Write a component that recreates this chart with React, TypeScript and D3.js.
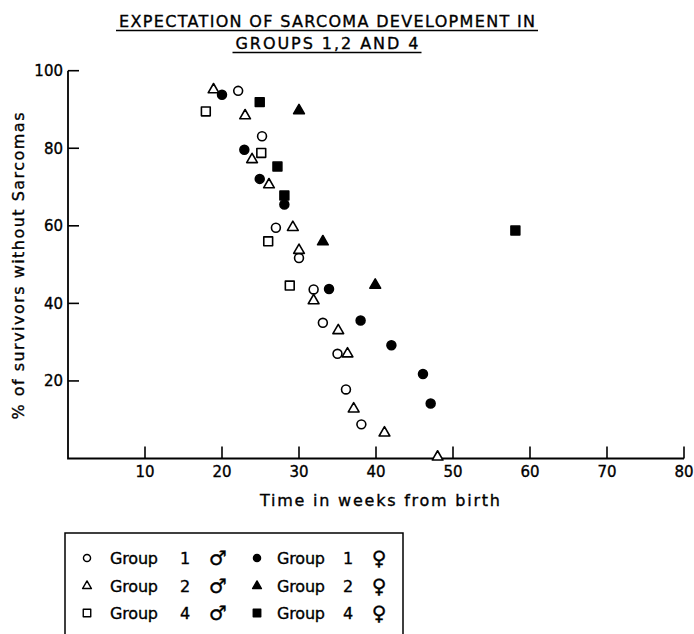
import { useEffect, useRef } from 'react';
import * as d3 from 'd3';

// --- data (weeks, % survivors) ---
const g1MaleX = [22.1, 25.2, 27.0, 30.0, 31.9, 33.1, 35.0, 36.1, 38.1];
const g1MaleY = [94.8, 83.1, 59.5, 51.7, 43.6, 35.0, 27.0, 17.8, 8.8];
const g1FemaleX = [20.0, 22.9, 24.9, 28.1, 33.9, 38.0, 42.0, 46.1, 47.1];
const g1FemaleY = [93.8, 79.6, 72.1, 65.5, 43.7, 35.6, 29.2, 21.8, 14.2];
const g2MaleX = [18.9, 23.0, 23.9, 26.1, 29.2, 30.0, 31.9, 35.1, 36.3, 37.1, 41.1, 48.0];
const g2MaleY = [95.1, 88.4, 77.1, 70.6, 59.6, 53.7, 40.7, 33.0, 27.0, 12.8, 6.6, 0.4];
const g2FemaleX = [30.0, 33.1, 39.9];
const g2FemaleY = [89.7, 55.9, 44.7];
const g4MaleX = [17.9, 25.1, 26.0, 28.8];
const g4MaleY = [89.5, 78.8, 56.0, 44.6];
const g4FemaleX = [24.9, 27.2, 28.1, 58.1];
const g4FemaleY = [91.9, 75.3, 67.8, 58.8];

const xTicks = [10, 20, 30, 40, 50, 60, 70, 80];
const yTicks = [20, 40, 60, 80, 100];
const groups = ['1', '2', '4'];

const titleLines = ['EXPECTATION OF SARCOMA DEVELOPMENT IN', 'GROUPS 1,2 AND 4'];

const FONT = "'DejaVu Sans', sans-serif";

export default function App() {
  const ref = useRef<SVGSVGElement>(null);

  useEffect(() => {
    if (!ref.current) return;
    const svg = d3.select(ref.current);
    svg.selectAll('*').remove();

    const x = d3.scaleLinear().domain([0, 80]).range([68, 684]);
    const y = d3.scaleLinear().domain([0, 100]).range([458.5, 70.7]);

    // ink is a little heavier in the scan
    const txt = (sel: any) => sel.attr('fill', '#000').attr('stroke', '#000').attr('stroke-width', 0.35);

    // title
    const titleY = [27, 49];
    const titleW = [416, 183];
    titleLines.forEach((t, i) => {
      svg.append('text')
        .attr('x', 327).attr('y', titleY[i])
        .attr('text-anchor', 'middle')
        .attr('font-family', FONT).attr('font-size', 16)
        .attr('textLength', titleW[i]).attr('lengthAdjust', 'spacing')
        .call(txt)
        .text(t);
      svg.append('line')
        .attr('x1', 327 - titleW[i] / 2 - 3).attr('x2', 327 + titleW[i] / 2 + 3)
        .attr('y1', titleY[i] + 3.5).attr('y2', titleY[i] + 3.5)
        .attr('stroke', '#000').attr('stroke-width', 1.5);
    });

    // axes
    const axisG = svg.append('g');
    axisG.append('path')
      .attr('d', `M${x(0)},${y(100)}V${y(0)}H${x(80)}`)
      .attr('fill', 'none').attr('stroke', '#000').attr('stroke-width', 1.8);

    yTicks.forEach(v => {
      axisG.append('line')
        .attr('x1', x(0)).attr('x2', x(0) + 11)
        .attr('y1', y(v)).attr('y2', y(v))
        .attr('stroke', '#000').attr('stroke-width', 1.6);
      axisG.append('text')
        .attr('x', 63).attr('y', y(v) + 5.5)
        .attr('text-anchor', 'end')
        .attr('font-family', FONT).attr('font-size', 15)
        .call(txt)
        .text(v);
    });
    xTicks.forEach(v => {
      axisG.append('line')
        .attr('x1', x(v)).attr('x2', x(v))
        .attr('y1', y(0)).attr('y2', y(0) - 12)
        .attr('stroke', '#000').attr('stroke-width', 1.6);
      axisG.append('text')
        .attr('x', x(v)).attr('y', 477)
        .attr('text-anchor', 'middle')
        .attr('font-family', FONT).attr('font-size', 15)
        .call(txt)
        .text(v);
    });

    svg.append('text')
      .attr('x', 380).attr('y', 506)
      .attr('text-anchor', 'middle')
      .attr('font-family', FONT).attr('font-size', 16)
      .attr('textLength', 240).attr('lengthAdjust', 'spacing')
      .call(txt)
      .text('Time in weeks from birth');

    svg.append('text')
      .attr('transform', 'translate(24,266) rotate(-90)')
      .attr('text-anchor', 'middle')
      .attr('font-family', FONT).attr('font-size', 16)
      .attr('textLength', 307).attr('lengthAdjust', 'spacing')
      .call(txt)
      .text('% of survivors without Sarcomas');

    // markers
    const circle = d3.symbol().type(d3.symbolCircle).size(62)();
    const tri = d3.symbol().type(d3.symbolTriangle).size(50)();
    const square = d3.symbol().type(d3.symbolSquare).size(78)();

    const series = [
      { xs: g1MaleX, ys: g1MaleY, path: circle, filled: false },
      { xs: g2MaleX, ys: g2MaleY, path: tri, filled: false },
      { xs: g4MaleX, ys: g4MaleY, path: square, filled: false },
      { xs: g1FemaleX, ys: g1FemaleY, path: circle, filled: true },
      { xs: g2FemaleX, ys: g2FemaleY, path: tri, filled: true },
      { xs: g4FemaleX, ys: g4FemaleY, path: square, filled: true },
    ];

    const marks = svg.append('g');
    series.forEach(s => {
      s.xs.forEach((vx, i) => {
        marks.append('path')
          .attr('d', s.path)
          .attr('transform', `translate(${x(vx)},${y(s.ys[i])})`)
          .attr('fill', s.filled ? '#000' : '#fff')
          .attr('stroke', '#000')
          .attr('stroke-width', 1.6)
          .attr('stroke-linejoin', 'round');
      });
    });

    // legend box (runs off the bottom of the picture)
    svg.append('path')
      .attr('d', 'M65,640V533H403V640')
      .attr('fill', 'none').attr('stroke', '#000').attr('stroke-width', 1.5);

    const lcircle = d3.symbol().type(d3.symbolCircle).size(40)();
    const ltri = d3.symbol().type(d3.symbolTriangle).size(34)();
    const lsquare = d3.symbol().type(d3.symbolSquare).size(56)();
    const lpaths = [lcircle, ltri, lsquare];
    const rowY = [558, 586, 613];

    groups.forEach((g, i) => {
      const cy = rowY[i];
      [false, true].forEach((filled, j) => {
        const ox = j === 0 ? 0 : 170;
        svg.append('path')
          .attr('d', lpaths[i])
          .attr('transform', `translate(${87 + ox},${cy})`)
          .attr('fill', filled ? '#000' : '#fff')
          .attr('stroke', '#000').attr('stroke-width', 1.4)
          .attr('stroke-linejoin', 'round');
        svg.append('text')
          .attr('x', 110 + ox - (j ? 3 : 0)).attr('y', cy + 6)
          .attr('font-family', FONT).attr('font-size', 16)
          .attr('textLength', 48).attr('lengthAdjust', 'spacing')
          .call(txt)
          .text('Group');
        svg.append('text')
          .attr('x', 185 + ox - (j ? 7 : 0)).attr('y', cy + 6)
          .attr('text-anchor', 'middle')
          .attr('font-family', FONT).attr('font-size', 16)
          .call(txt)
          .text(g);
        svg.append('text')
          .attr('x', j === 0 ? 218 : 379).attr('y', cy + 7)
          .attr('text-anchor', 'middle')
          .attr('font-family', FONT).attr('font-size', 20)
          .call(txt)
          .text(j === 0 ? '\u2642' : '\u2640');
      });
    });
  }, []);

  return (
    <svg
      ref={ref}
      width={694}
      height={634}
      style={{ position: 'absolute', left: 0, top: 0, background: '#fff' }}
    />
  );
}
